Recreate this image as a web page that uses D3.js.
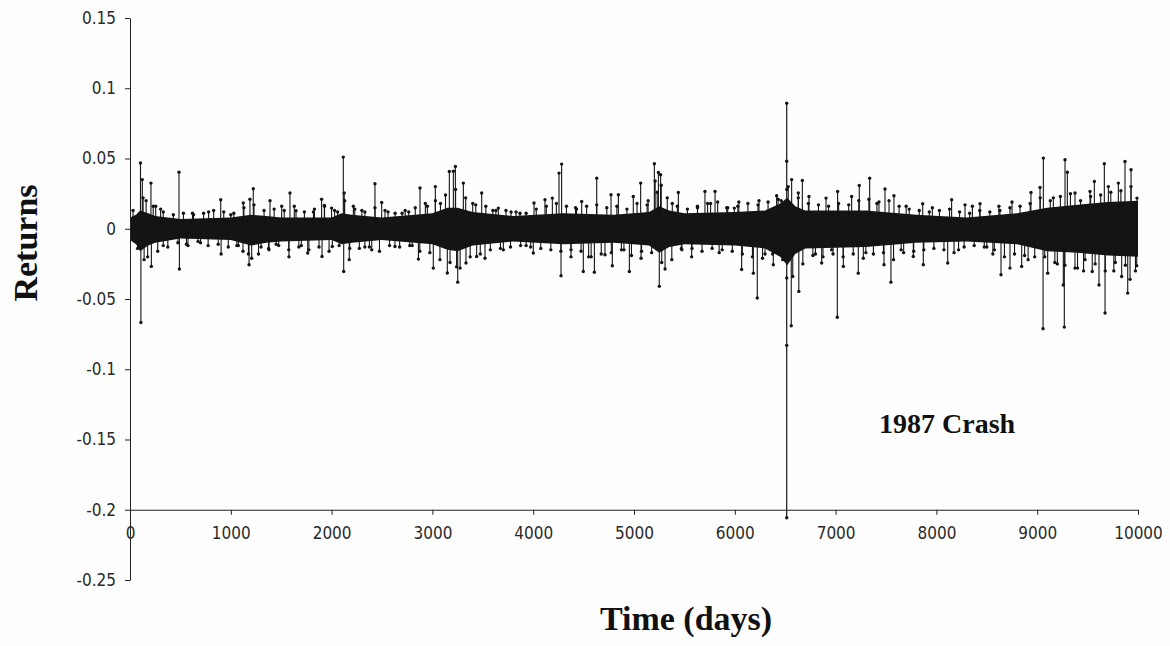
<!DOCTYPE html>
<html>
<head>
<meta charset="utf-8">
<script src="https://cdn.jsdelivr.net/npm/d3@7"></script>
<style>
  html, body { margin: 0; padding: 0; background: #fefefe; }
  svg { display: block; }
</style>
</head>
<body>
<svg id="chart" width="1170" height="646"></svg>
<script>
// ---------- data ----------
const yTicks = [0.15, 0.1, 0.05, 0, -0.05, -0.1, -0.15, -0.2, -0.25];
const xTicks = [0, 1000, 2000, 3000, 4000, 5000, 6000, 7000, 8000, 9000, 10000];

// solid core band of daily returns (upper / lower envelope)
const bandDays  = [0, 60, 100, 180, 250, 500, 1000, 1200, 1350, 1500, 2000, 2100, 2200, 2500, 3000, 3150, 3250, 3400, 3800, 4300, 4800, 5150, 5250, 5350, 5500, 6000, 6300, 6450, 6520, 6600, 6700, 7300, 7800, 8300, 8800, 9100, 9400, 9700, 10000];
const bandUpper = [0.008, 0.010, 0.013, 0.011, 0.009, 0.007, 0.008, 0.010, 0.009, 0.008, 0.008, 0.011, 0.010, 0.008, 0.011, 0.015, 0.015, 0.012, 0.009, 0.011, 0.010, 0.012, 0.016, 0.013, 0.011, 0.012, 0.013, 0.018, 0.022, 0.016, 0.013, 0.013, 0.010, 0.008, 0.011, 0.015, 0.017, 0.019, 0.020];
const bandLower = [-0.008, -0.011, -0.016, -0.012, -0.010, -0.007, -0.008, -0.012, -0.010, -0.009, -0.008, -0.011, -0.010, -0.008, -0.011, -0.015, -0.016, -0.012, -0.009, -0.011, -0.010, -0.012, -0.017, -0.013, -0.011, -0.012, -0.014, -0.020, -0.026, -0.018, -0.014, -0.013, -0.010, -0.009, -0.011, -0.016, -0.017, -0.019, -0.020];

// ragged edge of the band: highest / lowest small return in each 100-day stretch
const fringeStart = [
  0, 100, 200, 300, 400, 500, 600, 700, 800, 900, 1000, 1100, 1200, 1300, 1400, 1500, 1600, 1700, 1800, 1900,
  2000, 2100, 2200, 2300, 2400, 2500, 2600, 2700, 2800, 2900, 3000, 3100, 3200, 3300, 3400, 3500, 3600, 3700, 3800, 3900,
  4000, 4100, 4200, 4300, 4400, 4500, 4600, 4700, 4800, 4900, 5000, 5100, 5200, 5300, 5400, 5500, 5600, 5700, 5800, 5900,
  6000, 6100, 6200, 6300, 6400, 6500, 6600, 6700, 6800, 6900, 7000, 7100, 7200, 7300, 7400, 7500, 7600, 7700, 7800, 7900,
  8000, 8100, 8200, 8300, 8400, 8500, 8600, 8700, 8800, 8900, 9000, 9100, 9200, 9300, 9400, 9500, 9600, 9700, 9800, 9900
];
const fringeHigh = [
  0.013, 0.022, 0.016, 0.012, 0.010, 0.011, 0.010, 0.011, 0.013, 0.012, 0.011, 0.015, 0.017, 0.013, 0.014, 0.013, 0.016, 0.012, 0.014, 0.016,
  0.013, 0.020, 0.014, 0.012, 0.015, 0.013, 0.011, 0.013, 0.015, 0.018, 0.020, 0.024, 0.028, 0.022, 0.017, 0.016, 0.013, 0.013, 0.012, 0.011,
  0.014, 0.016, 0.018, 0.016, 0.014, 0.016, 0.017, 0.015, 0.016, 0.014, 0.018, 0.017, 0.026, 0.022, 0.016, 0.014, 0.015, 0.018, 0.019, 0.015,
  0.016, 0.018, 0.017, 0.019, 0.021, 0.030, 0.022, 0.018, 0.017, 0.016, 0.018, 0.017, 0.020, 0.021, 0.019, 0.020, 0.016, 0.014, 0.013, 0.012,
  0.013, 0.014, 0.012, 0.011, 0.013, 0.012, 0.013, 0.015, 0.016, 0.018, 0.022, 0.020, 0.023, 0.025, 0.020, 0.023, 0.024, 0.026, 0.027, 0.030
];
const fringeLow = [
  -0.014, -0.020, -0.016, -0.013, -0.010, -0.012, -0.009, -0.012, -0.011, -0.013, -0.012, -0.018, -0.018, -0.014, -0.012, -0.015, -0.013, -0.015, -0.013, -0.016,
  -0.012, -0.022, -0.014, -0.013, -0.016, -0.012, -0.013, -0.012, -0.016, -0.017, -0.022, -0.024, -0.028, -0.020, -0.018, -0.015, -0.014, -0.013, -0.012, -0.013,
  -0.014, -0.015, -0.016, -0.020, -0.016, -0.020, -0.018, -0.017, -0.015, -0.019, -0.016, -0.017, -0.024, -0.022, -0.015, -0.014, -0.016, -0.014, -0.015, -0.016,
  -0.018, -0.020, -0.021, -0.018, -0.022, -0.034, -0.025, -0.019, -0.020, -0.018, -0.020, -0.018, -0.021, -0.018, -0.017, -0.022, -0.017, -0.016, -0.015, -0.014,
  -0.015, -0.017, -0.013, -0.012, -0.013, -0.015, -0.020, -0.018, -0.019, -0.020, -0.020, -0.024, -0.026, -0.028, -0.022, -0.025, -0.030, -0.024, -0.026, -0.030
];

// individual returns sticking out of the band
const spikeDays = [
  104, 108, 122, 140, 160, 208, 212, 255, 304, 330, 486, 490, 560, 620, 700, 780, 900, 904, 1000, 1060,
  1121, 1124, 1181, 1190, 1207, 1223, 1300, 1379, 1389, 1450, 1505, 1577, 1587, 1647, 1700, 1763, 1820, 1901, 1905, 1928,
  2000, 2007, 2060, 2116, 2120, 2125, 2180, 2216, 2300, 2330, 2398, 2430, 2497, 2560, 2629, 2700, 2765, 2800, 2861, 2877,
  2950, 3009, 3029, 3080, 3148, 3168, 3208, 3228, 3240, 3251, 3307, 3333, 3400, 3439, 3489, 3522, 3600, 3654, 3704, 3780,
  3869, 3930, 4001, 4008, 4117, 4190, 4256, 4276, 4282, 4375, 4420, 4481, 4497, 4550, 4607, 4630, 4712, 4772, 4785, 4845,
  4900, 4954, 4993, 5066, 5070, 5140, 5202, 5210, 5242, 5251, 5264, 5270, 5308, 5380, 5440, 5470, 5572, 5630, 5704, 5760,
  5804, 5845, 5920, 5995, 6040, 6068, 6184, 6223, 6240, 6300, 6382, 6415, 6460, 6560, 6564, 6630, 6635, 6670, 6736, 6800,
  6862, 6905, 6960, 7017, 7020, 7077, 7159, 7225, 7235, 7300, 7338, 7410, 7480, 7490, 7549, 7579, 7650, 7700, 7771, 7864,
  7870, 7960, 8112, 8151, 8220, 8284, 8357, 8433, 8500, 8560, 8620, 8641, 8730, 8750, 8846, 8910, 8938, 9028, 9058, 9061,
  9104, 9160, 9200, 9259, 9269, 9276, 9299, 9375, 9400, 9460, 9524, 9546, 9567, 9613, 9666, 9673, 9706, 9760, 9805, 9838,
  9871, 9898, 9921, 9931, 9987, 9990
];
const spikeVals = [
  0.0468, -0.0667, 0.035, -0.022, 0.020, 0.0325, -0.0268, 0.016, 0.014, -0.012, 0.0403, -0.0287, -0.011, 0.011, -0.010, 0.012, 0.0206, -0.018, 0.010, -0.012,
  -0.016, 0.0183, -0.0256, 0.021, -0.021, 0.0285, -0.013, -0.015, 0.020, -0.011, 0.016, -0.020, 0.0254, 0.0128, -0.012, -0.0173, 0.012, 0.021, -0.0197, 0.0166,
  0.0147, -0.0126, 0.012, 0.051, -0.0304, 0.0254, -0.014, 0.016, 0.013, -0.013, -0.015, 0.032, 0.0187, 0.012, -0.0126, 0.011, 0.012, -0.012, -0.0216, 0.029,
  0.016, -0.028, 0.030, 0.018, -0.0315, 0.0408, 0.041, 0.0443, -0.027, -0.038, 0.0325, -0.0244, 0.018, -0.0197, 0.0254, -0.021, 0.013, 0.0147, -0.015, 0.012,
  0.011, -0.012, -0.0173, 0.0183, 0.0206, 0.0218, 0.0396, -0.0335, 0.046, -0.015, 0.015, 0.0194, -0.0304, -0.020, -0.031, 0.036, -0.0185, 0.0242, -0.0263, 0.0242,
  -0.015, -0.0304, 0.023, 0.0325, -0.021, 0.020, 0.0463, 0.034, 0.040, -0.041, 0.0384, 0.031, -0.0287, 0.018, 0.0258, -0.014, -0.020, 0.016, 0.0266, 0.018,
  0.0266, -0.017, 0.015, 0.0147, 0.019, -0.029, -0.0316, -0.0493, 0.020, -0.018, -0.0256, 0.0235, 0.020, -0.069, 0.035, 0.0254, -0.0446, 0.0344, 0.023, -0.018,
  -0.0244, 0.0218, -0.015, -0.063, 0.0266, -0.0268, 0.023, -0.0316, 0.0308, -0.017, 0.036, 0.018, -0.0256, 0.0283, -0.038, 0.0235, -0.015, 0.016, -0.0197, 0.0178,
  -0.0256, 0.015, -0.0244, 0.0206, -0.015, 0.017, 0.016, 0.0178, -0.013, -0.018, 0.016, -0.0327, -0.028, 0.019, -0.0268, -0.022, 0.0258, 0.0294, -0.0712, 0.0503,
  -0.0316, 0.022, -0.025, -0.040, -0.070, 0.0491, 0.0403, 0.0254, -0.028, -0.030, 0.0266, -0.0304, 0.0337, -0.040, 0.0463, -0.060, 0.030, -0.030, 0.0325, -0.034,
  0.0479, -0.0458, -0.036, 0.042, -0.0263, 0.0218
];

// the 1987 crash day: successive returns plotted on one vertical stroke
const crashDay = 6515;
const crashVals = [0.0894, 0.048, 0.028, -0.035, -0.083, -0.2057];

// ---------- drawing ----------
const svg = d3.select("#chart");
const x = d3.scaleLinear().domain([0, 10000]).range([130, 1138]);
const y = d3.scaleLinear().domain([-0.25, 0.15]).range([580, 18]);
const ink = "#141414";

// core band
const band = bandDays.map((d, i) => ({ d, hi: bandUpper[i], lo: bandLower[i] }));
svg.append("path")
  .datum(band)
  .attr("fill", ink)
  .attr("d", d3.area().x(p => x(p.d)).y0(p => y(p.lo)).y1(p => y(p.hi)).curve(d3.curveLinear));

// ragged fringe + spikes share the same stalk-and-dot drawing
const fringe = [];
fringeStart.forEach((d, i) => {
  fringe.push({ d: d + 30, v: fringeHigh[i] });
  fringe.push({ d: d + 75, v: fringeLow[i] });
});
const spikes = spikeDays.map((d, i) => ({ d, v: spikeVals[i] }));
const marks = fringe.concat(spikes).filter(s => s.d <= 10000);

const seg = d3.line().x(p => x(p[0])).y(p => y(p[1]));
svg.append("g").selectAll("path").data(marks).join("path")
  .attr("d", s => seg([[s.d, 0], [s.d, s.v]]))
  .attr("stroke", ink).attr("stroke-width", 1.1).attr("fill", "none");
svg.append("g").selectAll("circle").data(marks).join("circle")
  .attr("cx", s => x(s.d)).attr("cy", s => y(s.v)).attr("r", 1.7)
  .attr("fill", ink);

// crash stroke
svg.append("path")
  .attr("d", seg([[crashDay, d3.max(crashVals)], [crashDay, d3.min(crashVals)]]))
  .attr("stroke", ink).attr("stroke-width", 1.2).attr("fill", "none");
svg.append("g").selectAll("circle").data(crashVals).join("circle")
  .attr("cx", x(crashDay)).attr("cy", v => y(v)).attr("r", 1.7).attr("fill", ink);

// axes
const fmt = v => String(+v.toFixed(2));
const tickFont = "'Liberation Sans Narrow', 'Arial Narrow', 'DejaVu Sans Condensed', sans-serif";
const yAxis = svg.append("g")
  .attr("transform", `translate(${x(0)},0)`)
  .call(d3.axisLeft(y).tickValues(yTicks).tickFormat(fmt).tickSize(5).tickSizeOuter(0).tickPadding(9));
const xAxis = svg.append("g")
  .attr("transform", `translate(0,${y(-0.2)})`)
  .call(d3.axisBottom(x).tickValues(xTicks).tickFormat(d3.format("d")).tickSize(5).tickSizeOuter(0).tickPadding(12));
[yAxis, xAxis].forEach(g => {
  g.selectAll("path, line").attr("stroke", "#222").attr("stroke-width", 1);
  g.selectAll("text").attr("fill", "#2a2a2a").attr("font-family", tickFont).attr("font-size", 17);
});

// titles
const serif = "'Liberation Serif', 'Times New Roman', serif";
svg.append("text")
  .attr("transform", "translate(37,243) rotate(-90)")
  .attr("text-anchor", "middle")
  .attr("font-family", serif).attr("font-weight", "bold").attr("font-size", 34).attr("fill", "#111")
  .text("Returns");
svg.append("text")
  .attr("x", 686).attr("y", 630)
  .attr("text-anchor", "middle")
  .attr("font-family", serif).attr("font-weight", "bold").attr("font-size", 34).attr("fill", "#111")
  .text("Time (days)");
svg.append("text")
  .attr("x", 879).attr("y", 433)
  .attr("font-family", serif).attr("font-weight", "bold").attr("font-size", 28).attr("fill", "#111")
  .text("1987 Crash");
</script>
</body>
</html>
